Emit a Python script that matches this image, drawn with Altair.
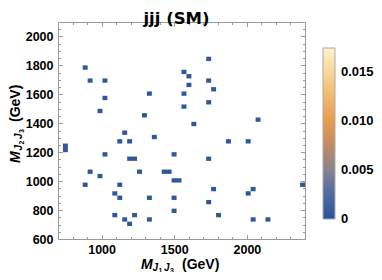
import altair as alt
import pandas as pd

# bin sizes (GeV)
BX, BY = 34, 30

# cell centres (GeV), span in bins, and density value
x_c = [887, 921, 1023, 1023, 989, 1329, 1295, 1159, 1363, 1567, 1601, 1601, 1567, 1567,
       1737, 1737, 1771, 1737, 1635, 2077, 1125, 1193, 1873, 2009, 751, 1023, 1210, 1499,
       1737, 921, 989, 1261, 1448, 1516, 887, 1125, 1091, 1125, 1329, 1499, 1771, 1737,
       2009, 2043, 2383, 1499, 1091, 1227, 1159, 1193, 1329, 1805, 2043, 2145]
y_c = [1785, 1695, 1695, 1575, 1485, 1605, 1455, 1335, 1305, 1755, 1725, 1665, 1605, 1515,
       1845, 1695, 1635, 1545, 1395, 1425, 1275, 1275, 1275, 1275, 1230, 1185, 1155, 1185,
       1155, 1065, 1035, 1065, 1065, 1005, 975, 975, 915, 885, 885, 885, 945, 855,
       915, 945, 975, 795, 765, 765, 735, 705, 735, 765, 735, 735]
n_x = [1, 1, 1, 1, 1, 1, 1, 1, 1, 1, 1, 1, 1, 1,
       1, 1, 1, 1, 1, 1, 1, 1, 1, 1, 1, 1, 2, 1,
       1, 1, 1, 1, 2, 2, 1, 1, 1, 1, 1, 1, 1, 1,
       1, 1, 1, 1, 1, 1, 1, 1, 1, 1, 1, 1]
n_y = [1, 1, 1, 1, 1, 1, 1, 1, 1, 1, 1, 1, 1, 1,
       1, 1, 1, 1, 1, 1, 1, 1, 1, 1, 2, 1, 1, 1,
       1, 1, 1, 1, 1, 1, 1, 1, 1, 1, 1, 1, 1, 1,
       1, 1, 1, 1, 1, 1, 1, 1, 1, 1, 1, 1]
val = [0.0003, 0.0003, 0.0003, 0.0003, 0.0003, 0.0003, 0.0003, 0.0003, 0.0003, 0.0003,
       0.0003, 0.0003, 0.0003, 0.0003, 0.0003, 0.0003, 0.0003, 0.0003, 0.0003, 0.0003,
       0.0003, 0.0003, 0.0003, 0.0003, 0.0003, 0.0003, 0.0003, 0.0003, 0.0003, 0.0003,
       0.0003, 0.0003, 0.0003, 0.0003, 0.0003, 0.0003, 0.0003, 0.0003, 0.0003, 0.0003,
       0.0003, 0.0003, 0.0003, 0.0003, 0.0003, 0.0003, 0.0003, 0.0003, 0.0003, 0.0003,
       0.0003, 0.0003, 0.0003, 0.0003]

x_major = [1000, 1500, 2000]
x_minor = list(range(800, 2400, 100))
y_major = [600, 800, 1000, 1200, 1400, 1600, 1800, 2000]
y_minor = list(range(650, 2100, 50))
legend_ticks = [0, 0.005, 0.010, 0.015]
c_stops = [-0.00002, 0.0025, 0.005, 0.0075, 0.0100, 0.0130, 0.0174]
c_cols = ["#2b5495", "#4f6aa6", "#8a8390", "#c08c63", "#e89d4b", "#f3bf77", "#fff3c8"]

df = pd.DataFrame({"xc": x_c, "yc": y_c, "nx": n_x, "ny": n_y, "v": val})
df["x0"] = df.xc - df.nx * BX / 2
df["x1"] = df.xc + df.nx * BX / 2
df["y0"] = df.yc - df.ny * BY / 2
df["y1"] = df.yc + df.ny * BY / 2

W, H = 247, 217
FONT = "Liberation Sans"
GRAY = "#9a9a9a"
xs = alt.Scale(domain=[700, 2400], nice=False, zero=False)
ys = alt.Scale(domain=[600, 2100], nice=False, zero=False)
cs = alt.Scale(domain=c_stops, range=c_cols, interpolate="rgb")

rect = alt.Chart(df).mark_rect().encode(
    x=alt.X("x0:Q", scale=xs, axis=alt.Axis(
        orient="bottom", values=x_major, ticks=False, domain=False, grid=False,
        labelFont=FONT, labelFontWeight="bold", labelFontSize=12.5, labelColor="black",
        labelPadding=4, title=None, format="d")),
    x2="x1",
    y=alt.Y("y0:Q", scale=ys, axis=alt.Axis(
        orient="left", values=y_major, ticks=False, domain=False, grid=False,
        labelFont=FONT, labelFontWeight="bold", labelFontSize=12.5, labelColor="black",
        labelPadding=5, title=None, format="d")),
    y2="y1",
    color=alt.Color("v:Q", scale=cs, legend=alt.Legend(
        orient="none", legendX=265, legendY=26, direction="vertical",
        gradientLength=171, gradientThickness=12, values=legend_ticks,
        labelExpr="datum.value == 0 ? '0' : format(datum.value, '.3f')",
        labelFont=FONT, labelFontWeight="bold", labelFontSize=13, labelColor="black",
        labelOffset=6, labelOverlap=False,
        gradientStrokeColor="#aaaaaa", gradientStrokeWidth=1, padding=0, title=None)),
)


def tick_layer(xvals, yvals, size, xorient, yorient):
    return alt.Chart(df).mark_point(opacity=0).encode(
        x=alt.X("xc:Q", scale=xs, axis=alt.Axis(
            orient=xorient, offset=-H, values=xvals, labels=False, domain=False, grid=False,
            ticks=True, tickSize=size, tickColor=GRAY, tickWidth=1, title=None)),
        y=alt.Y("yc:Q", scale=ys, axis=alt.Axis(
            orient=yorient, offset=-W, values=yvals, labels=False, domain=False, grid=False,
            ticks=True, tickSize=size, tickColor=GRAY, tickWidth=1, title=None)),
    )


t1 = tick_layer(x_major, y_major, 4.5, "top", "right")
t2 = tick_layer(x_minor, y_minor, 2.5, "top", "right")
t3 = tick_layer(x_major, y_major, 4.5, "bottom", "left")
t4 = tick_layer(x_minor, y_minor, 2.5, "bottom", "left")

one = pd.DataFrame({"a": [0]})


def txt(s, x, y, size, italic=False, angle=0):
    kw = dict(align="left", baseline="alphabetic", font=FONT, fontWeight="bold",
              fontSize=size, color="black", x=x, y=y)
    if italic:
        kw["fontStyle"] = "italic"
    if angle:
        kw["angle"] = angle
    return alt.Chart(one).mark_text(**kw).encode(text=alt.value(s))


xt = [
    txt("M", 83, 246.5, 14, italic=True),
    txt("J", 94.5, 248.5, 10, italic=True),
    txt("1", 100.5, 250.5, 7),
    txt("J", 106, 248.5, 10, italic=True),
    txt("3", 112, 250.5, 7),
    txt("(GeV)", 124, 246.5, 14),
]
yt = [
    txt("M", -38.5, 141, 14, italic=True, angle=270),
    txt("J", -36.5, 128.5, 10, italic=True, angle=270),
    txt("2", -34.5, 122.5, 7, angle=270),
    txt("J", -36.5, 117, 10, italic=True, angle=270),
    txt("3", -34.5, 111, 7, angle=270),
    txt("(GeV)", -38.5, 100, 14, angle=270),
]

chart = alt.layer(rect, t1, t2, t3, t4, *xt, *yt).resolve_axis(
    x="independent", y="independent"
).properties(
    width=W, height=H,
    title=alt.TitleParams("jjj (SM)", font="DejaVu Sans", fontWeight="bold", fontSize=16.5,
                          color="black", anchor="middle", dx=-5, dy=10, offset=4),
    autosize=alt.AutoSizeParams(type="none"),
    padding={"left": 50, "top": 14, "right": 69, "bottom": 33},
).configure_view(stroke=GRAY, strokeWidth=1)

chart.save("out.html", embed_options={"renderer": "svg", "actions": False})
